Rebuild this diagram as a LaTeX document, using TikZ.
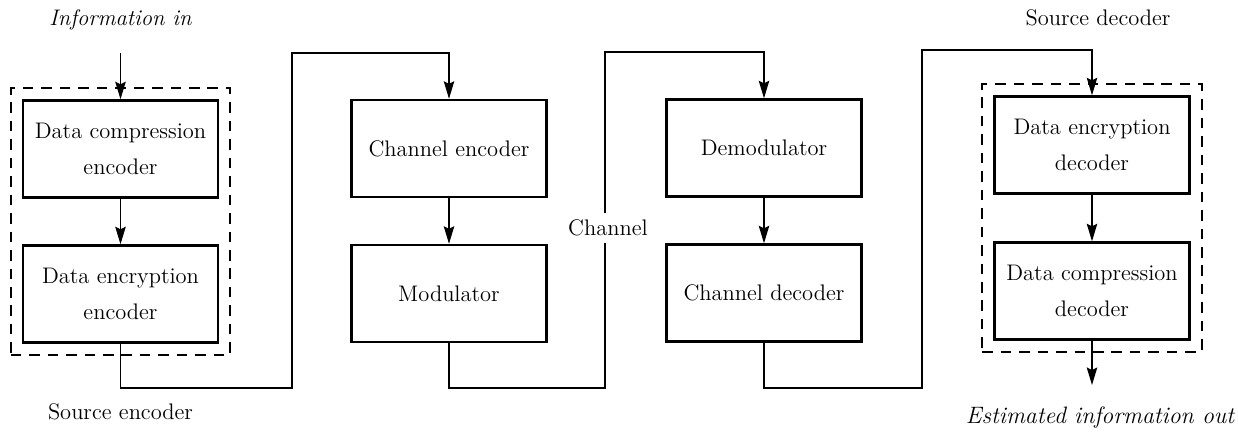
\documentclass[tikz,border=0pt]{standalone}
\usetikzlibrary{arrows.meta,fit}
\begin{document}
\begin{tikzpicture}[
  blk/.style={draw,line width=1.4pt,minimum width=3.9cm,minimum height=1.94cm,align=center,inner sep=0pt},
  grp/.style={draw,line width=0.9pt,dash pattern=on 6pt off 4.5pt,inner sep=0.22cm},
  wire/.style={line width=0.65pt},
  arr/.style={wire,-{Stealth[length=10pt,width=6pt,inset=1.5pt]}},
  lbl/.style={inner sep=2pt},
  font=\fontsize{12.8}{20}\selectfont]
\useasboundingbox (0,0) rectangle (24.76,-8.64);
% SOURCE ENCODER
\node [blk] (dce) at (2.41,-2.98) {Data compression\\encoder};
\node [blk] (dee) at (2.41,-5.88) {Data encryption\\encoder};
\node [grp,fit=(dce)(dee)] (srcenc) {};
% CHANNEL ENCODER AND MODULATOR
\node [blk] (che) at (8.98,-2.97) {Channel encoder};
\node [blk] (mod) at (8.98,-5.87) {Modulator};
% DEMODULATOR AND CHANNEL DECODER
\node [blk] (dem) at (15.28,-2.96) {Demodulator};
\node [blk] (chd) at (15.28,-5.86) {Channel decoder};
% SOURCE DECODER
\node [blk] (edd) at (21.84,-2.9) {Data encryption\\decoder};
\node [blk] (cdd) at (21.84,-5.82) {Data compression\\decoder};
\node [grp,fit=(edd)(cdd)] (srcdec) {};
% LABELS
\node [lbl] (infoin) at (2.41,-0.4) {\itshape Information in};
\node [lbl] (srcenclbl) at (2.41,-8.24) {Source encoder};
\node [lbl] (srcdeclbl) at (21.96,-0.36) {Source decoder};
\node [lbl,font=\fontsize{13.5}{20}\selectfont] (infoout) at (22.0,-8.36) {\itshape Estimated information out};
\coordinate (in) at (2.41,-1.06);
\coordinate (out) at (21.84,-7.7);
% CONNECTIONS
\draw [arr] (in) -- (dce);
\draw [arr] (dce) -- (dee);
\draw [arr] (dee.south) |- (5.84,-7.76) |- (che.north |- 0,-1.06) -- (che.north);
\draw [arr] (che) -- (mod);
\draw [arr] (mod.south) |- (12.1,-7.76) |- (dem.north |- 0,-1.04) -- (dem.north);
\draw [arr] (dem) -- (chd);
\draw [arr] (chd.south) |- (18.44,-7.76) |- (edd.north |- 0,-1.0) -- (edd.north);
\draw [arr] (edd) -- (cdd);
\draw [arr] (cdd) -- (out);
% CHANNEL LABEL
\node [fill=white,inner sep=4pt] (chan) at (12.16,-4.56) {Channel};
\end{tikzpicture}
\end{document}
